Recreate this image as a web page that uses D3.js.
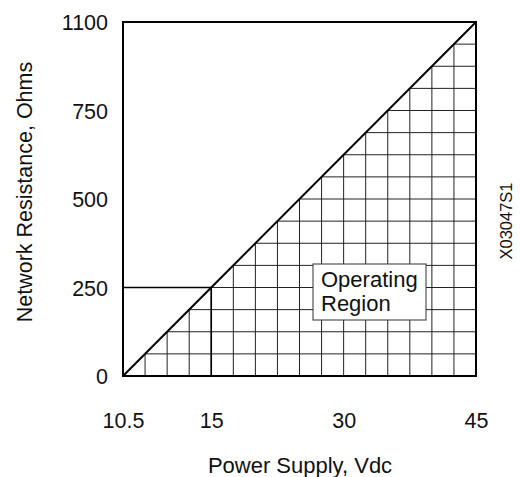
<!DOCTYPE html>
<html>
<head>
<meta charset="utf-8">
<script src="https://cdn.jsdelivr.net/npm/d3@7"></script>
<style>
  html, body { margin: 0; padding: 0; background: #fff; }
  svg { display: block; }
  text { font-family: "Liberation Sans", Arial, Helvetica, sans-serif; fill: #111; }
</style>
</head>
<body>
<svg id="chart" width="520" height="477"></svg>
<script>
// Supply voltage (Vdc) and loop resistance (ohms) tick values
const voltageTicks = [10.5, 15, 30, 45];
const resistanceTicks = [0, 250, 500, 750, 1100];

// Maximum load line: resistance allowed at each supply voltage
const loadLine = [
  { v: 10.5, r: 0 },
  { v: 15, r: 250 },
  { v: 45, r: 1100 }
];

// Reference point marked with guide lines
const refPoint = { v: 15, r: 250 };

const xLabel = "Power Supply, Vdc";
const yLabel = "Network Resistance, Ohms";
const regionLabel = ["Operating", "Region"];
const figId = "X03047S1";

// ---- layout ----
const plotL = 123, plotR = 476, plotT = 22, plotB = 376;
const cells = 16;                 // grid divisions per side
const tickCells = [0, 4, 10, 16]; // grid cell at which each voltage tick sits
const rTickCells = [0, 4, 8, 12, 16];

const svg = d3.select("#chart");

// cell-unit scales (uniform grid)
const cx = d3.scaleLinear().domain([0, cells]).range([plotL, plotR]);
const cy = d3.scaleLinear().domain([0, cells]).range([plotB, plotT]);

// piecewise value scales, ticks evenly spaced on the grid
const x = d3.scaleLinear().domain(voltageTicks).range(tickCells.map(cx));
const y = d3.scaleLinear().domain(resistanceTicks).range(rTickCells.map(cy));

const tickSize = 21.5;
const titleSize = 22;

// ---- grid under the load line ----
const grid = svg.append("g").attr("stroke", "#222").attr("stroke-width", 1).attr("fill", "none");
for (let i = 1; i < cells; i++) {
  // vertical grid line from baseline up to the load line
  grid.append("line")
    .attr("x1", cx(i)).attr("x2", cx(i))
    .attr("y1", cy(0)).attr("y2", cy(i));
  // horizontal grid line from load line to the right edge
  grid.append("line")
    .attr("x1", cx(i)).attr("x2", cx(cells))
    .attr("y1", cy(i)).attr("y2", cy(i));
}

// ---- reference guide lines at 15 V / 250 ohms ----
svg.append("path")
  .attr("d", d3.line()([
    [x(voltageTicks[0]), y(refPoint.r)],
    [x(refPoint.v), y(refPoint.r)],
    [x(refPoint.v), y(0)]
  ]))
  .attr("fill", "none").attr("stroke", "#000").attr("stroke-width", 1.6);

// ---- load line ----
svg.append("path")
  .datum(loadLine)
  .attr("d", d3.line().x(d => x(d.v)).y(d => y(d.r)))
  .attr("fill", "none").attr("stroke", "#000").attr("stroke-width", 2);

// ---- plot frame ----
svg.append("rect")
  .attr("x", plotL).attr("y", plotT)
  .attr("width", plotR - plotL).attr("height", plotB - plotT)
  .attr("fill", "none").attr("stroke", "#000").attr("stroke-width", 2);

// ---- axis tick labels ----
const xAxis = d3.axisBottom(x).tickValues(voltageTicks).tickSize(0).tickPadding(0)
  .tickFormat(d => String(d));
svg.append("g")
  .attr("transform", `translate(0,${plotB + 44})`)
  .call(xAxis)
  .call(g => g.select(".domain").remove())
  .selectAll("text")
  .attr("font-size", tickSize).attr("dy", "0.35em").attr("y", 0)
  .attr("font-family", "Liberation Sans, Arial, sans-serif").attr("fill", "#111");

const yAxis = d3.axisLeft(y).tickValues(resistanceTicks).tickSize(0).tickPadding(0)
  .tickFormat(d => String(d));
svg.append("g")
  .attr("transform", `translate(${plotL - 15},0)`)
  .call(yAxis)
  .call(g => g.select(".domain").remove())
  .selectAll("text")
  .attr("font-size", tickSize).attr("dy", "0.35em").attr("x", 0)
  .attr("font-family", "Liberation Sans, Arial, sans-serif").attr("fill", "#111");

// ---- axis titles ----
svg.append("text")
  .attr("x", 300).attr("y", 473)
  .attr("text-anchor", "middle").attr("font-size", titleSize)
  .text(xLabel);

svg.append("text")
  .attr("transform", `translate(32,192) rotate(-90)`)
  .attr("text-anchor", "middle").attr("font-size", tickSize)
  .text(yLabel);

// ---- region label box ----
const box = { x0: 313, y0: 264, x1: 426, y1: 320 };
svg.append("rect")
  .attr("x", box.x0).attr("y", box.y0)
  .attr("width", box.x1 - box.x0).attr("height", box.y1 - box.y0)
  .attr("fill", "#fff").attr("stroke", "#333").attr("stroke-width", 1);
svg.append("text")
  .attr("x", box.x0 + 8).attr("y", box.y0 + 23)
  .attr("font-size", titleSize)
  .selectAll("tspan").data(regionLabel).join("tspan")
  .attr("x", box.x0 + 8).attr("dy", (d, i) => i ? 24 : 0)
  .text(d => d);

// ---- figure id ----
svg.append("text")
  .attr("transform", `translate(512,221) rotate(-90)`)
  .attr("text-anchor", "middle").attr("font-size", 16.5)
  .text(figId);
</script>
</body>
</html>
